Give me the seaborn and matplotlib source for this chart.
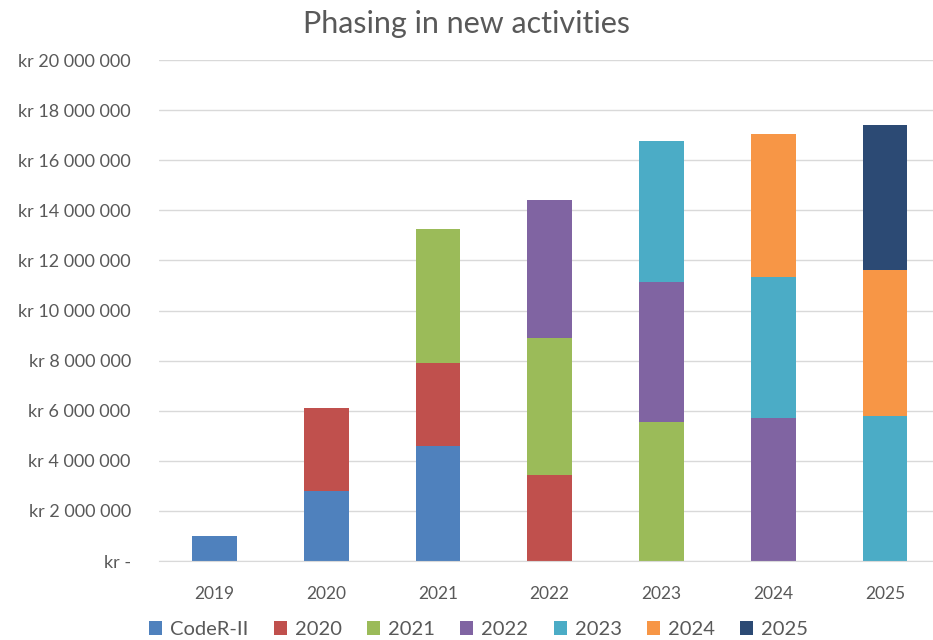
import matplotlib
matplotlib.use("Agg")
import matplotlib.pyplot as plt
import matplotlib.ticker as mticker
import numpy as np
import pandas as pd
import seaborn as sns

# years on the x axis
years = ["2019", "2020", "2021", "2022", "2023", "2024", "2025"]

# stacked segments, kr per year
coder_ii = [1.0e6, 2.8e6, 4.6e6, 0, 0, 0, 0]
act_2020 = [0, 3.3e6, 3.3e6, 3.45e6, 0, 0, 0]
act_2021 = [0, 0, 5.35e6, 5.45e6, 5.55e6, 0, 0]
act_2022 = [0, 0, 0, 5.5e6, 5.6e6, 5.7e6, 0]
act_2023 = [0, 0, 0, 0, 5.6e6, 5.65e6, 5.8e6]
act_2024 = [0, 0, 0, 0, 0, 5.7e6, 5.8e6]
act_2025 = [0, 0, 0, 0, 0, 0, 5.8e6]

series_names = ["CodeR-II", "2020", "2021", "2022", "2023", "2024", "2025"]
series_values = [coder_ii, act_2020, act_2021, act_2022, act_2023, act_2024, act_2025]
colors = ["#4F81BD", "#C0504D", "#9BBB59", "#8064A2", "#4BACC6", "#F79646", "#2C4A74"]

sns.set_style("white")
plt.rcParams["font.family"] = ["Lato", "DejaVu Sans"]
grey = "#595959"

fig = plt.figure(figsize=(9.33, 6.4), dpi=100)
ax = fig.add_axes([0.17, 0.1234, 0.83, 0.7828])

bottom = np.zeros(len(years))
for name, vals, col in zip(series_names, series_values, colors):
    df = pd.DataFrame({"year": years, "value": vals})
    sns.barplot(data=df, x="year", y="value", order=years, color=col,
                width=0.40, bottom=bottom, ax=ax, label=name,
                saturation=1, linewidth=0)
    bottom = bottom + np.array(vals)

ax.set_ylim(0, 20e6)
ax.set_xlim(-0.5, 6.43)
ax.yaxis.set_major_locator(mticker.MultipleLocator(2e6))


def kr_fmt(v, pos):
    if v == 0:
        return "kr -"
    return "kr " + f"{int(round(v)):,}".replace(",", " ")


ax.yaxis.set_major_formatter(mticker.FuncFormatter(kr_fmt))
ax.grid(axis="y", color="#D9D9D9", linewidth=1)
ax.set_axisbelow(True)
for s in ["top", "right", "left"]:
    ax.spines[s].set_visible(False)
ax.spines["bottom"].set_color("#D9D9D9")
ax.tick_params(axis="y", length=0, pad=20, labelsize=13, labelcolor=grey)
ax.tick_params(axis="x", length=0, pad=18, labelsize=12.5, labelcolor=grey)
ax.set_xlabel("")
ax.set_ylabel("")

handles, labels = ax.get_legend_handles_labels()
if ax.get_legend() is not None:
    ax.get_legend().remove()

fig.suptitle("Phasing in new activities", y=0.985, fontsize=22, color=grey)

fig.legend(handles, labels, loc="lower center", bbox_to_anchor=(0.513, -0.025),
           ncol=7, frameon=False, fontsize=14.5, labelcolor=grey,
           handlelength=0.65, handleheight=0.65, handletextpad=0.4,
           columnspacing=1.25)

fig.savefig("out.png", dpi=100)
